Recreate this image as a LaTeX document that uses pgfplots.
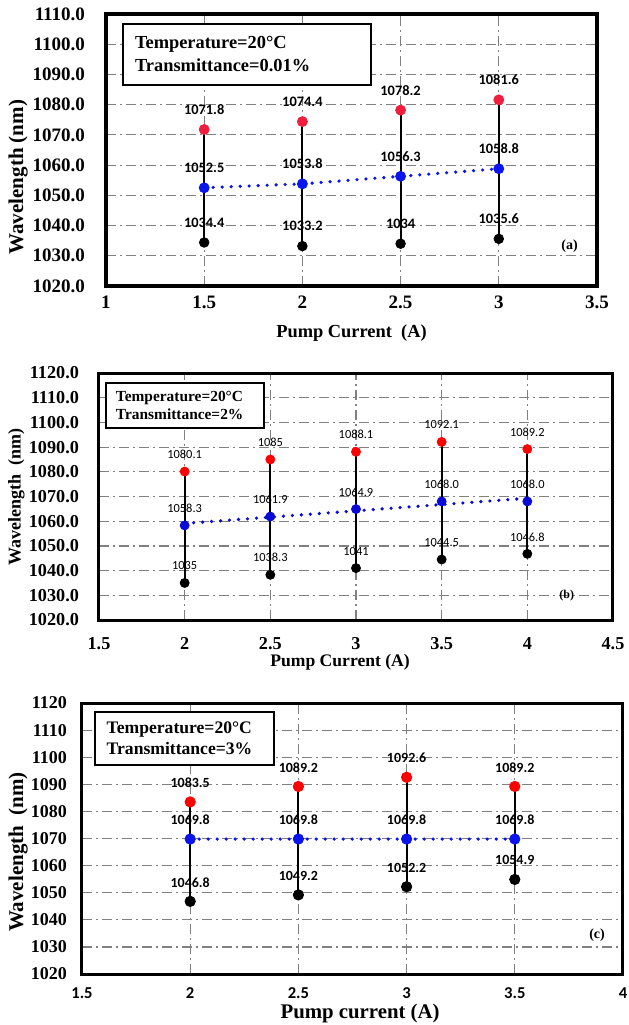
\documentclass[border=0pt]{standalone}
\usepackage{pgfplots}
\pgfplotsset{compat=1.18}
\usepackage{fontspec}
\setmainfont{Liberation Serif}
\newfontfamily\calfont{Carlito}
\definecolor{redA}{RGB}{240,30,60}
\definecolor{redB}{RGB}{255,0,0}
\definecolor{blueA}{RGB}{10,20,235}
\definecolor{blueB}{RGB}{10,10,215}
\definecolor{gridgray}{RGB}{128,128,128}
\pgfplotsset{
  panel/.style={
    scale only axis,
    anchor=north west,
    grid=major,
    major grid style={gridgray, line width=0.6pt, dash pattern=on 5pt off 2pt on 1pt off 2pt},
    major tick length=0pt,
    tick style={draw=none},
    /pgf/number format/assume math mode=true,
    clip=false,
  },
  vline/.style={black, line width=1pt, forget plot},
  dotline/.style={line width=1.8pt, line cap=round, dash pattern=on 0pt off 4.5pt, forget plot},
}
\begin{document}
\begin{tikzpicture}
\useasboundingbox (0pt,0pt) rectangle (314pt,-512.5pt);
% ---------------- panel (a)
\begin{axis}[panel, at={(53pt,-7pt)}, width=245.5pt, height=136pt,
  xmin=1, xmax=3.5, ymin=1020, ymax=1110,
  xtick={1,1.5,2,2.5,3,3.5}, ytick={1020,1030,...,1110},
  axis line style={line width=2pt},
  ticklabel style={font=\bfseries\fontsize{9.5}{10}\selectfont},
  yticklabel style={/pgf/number format/.cd, fixed, fixed zerofill, precision=1, 1000 sep={}, /tikz/.cd, xshift=-7pt},
  xticklabel style={yshift=-1.5pt},
  xlabel={Pump Current\ \ (A)},
  xlabel style={at={(axis description cs:0.5,-0.173)}, anchor=center, font=\bfseries\fontsize{9.2}{10}\selectfont},
  ylabel={Wavelength (nm)},
  ylabel style={at={(axis description cs:-0.179,0.40)}, anchor=center, font=\bfseries\fontsize{10.5}{11}\selectfont},
  nodes near coords style={black, anchor=center, yshift=10pt, font=\calfont\bfseries\fontsize{7.2}{8}\selectfont},
]
\addplot[vline] coordinates {(1.5,1034.4) (1.5,1071.8)};
\addplot[vline] coordinates {(2,1033.2) (2,1074.4)};
\addplot[vline] coordinates {(2.5,1034) (2.5,1078.2)};
\addplot[vline] coordinates {(3,1035.6) (3,1081.6)};
\addplot[dotline, blueA] coordinates {(1.5,1052.5) (2,1053.8) (2.5,1056.3) (3,1058.8)};
\addplot[only marks, mark=*, mark size=2.5pt, redA, nodes near coords, point meta=explicit symbolic]
  coordinates {(1.5,1071.8)[1071.8] (2,1074.4)[1074.4] (2.5,1078.2)[1078.2] (3,1081.6)[1081.6]};
\addplot[only marks, mark=*, mark size=2.5pt, blueA, nodes near coords, point meta=explicit symbolic]
  coordinates {(1.5,1052.5)[1052.5] (2,1053.8)[1053.8] (2.5,1056.3)[1056.3] (3,1058.8)[1058.8]};
\addplot[only marks, mark=*, mark size=2.4pt, black, nodes near coords, point meta=explicit symbolic]
  coordinates {(1.5,1034.4)[1034.4] (2,1033.2)[1033.2] (2.5,1034)[1034] (3,1035.6)[1035.6]};
\node[draw, line width=0.8pt, fill=white, anchor=north west, text width=112pt, inner xsep=6pt, minimum height=30.5pt, align=left, font=\bfseries\fontsize{9.2}{11.5}\selectfont]
  at (rel axis cs:0.033,0.967) {Temperature=20°C\\Transmittance=0.01\%};
\node[font=\bfseries\fontsize{7}{8}\selectfont] at (axis cs:3.36,1033.3) {(a)};
\end{axis}
% ---------------- panel (b)
\begin{axis}[panel, at={(49.5pt,-186.5pt)}, width=257pt, height=123.5pt,
  xmin=1.5, xmax=4.5, ymin=1020, ymax=1120,
  xtick={1.5,2,2.5,3,3.5,4,4.5}, ytick={1020,1030,...,1120},
  axis line style={line width=1.5pt},
  ticklabel style={font=\bfseries\fontsize{9.1}{10}\selectfont},
  yticklabel style={/pgf/number format/.cd, fixed, fixed zerofill, precision=1, 1000 sep={}, /tikz/.cd, xshift=-6.5pt},
  xticklabel style={yshift=-5pt},
  xlabel={Pump Current (A)},
  xlabel style={at={(axis description cs:0.469,-0.170)}, anchor=center, font=\bfseries\fontsize{8.8}{10}\selectfont},
  ylabel={Wavelength\ \ (nm)},
  ylabel style={at={(axis description cs:-0.161,0.498)}, anchor=center, font=\bfseries\fontsize{9}{10}\selectfont},
  nodes near coords style={black, anchor=center, yshift=8.5pt, font=\calfont\fontsize{6.2}{7}\selectfont},
]
\addplot[vline] coordinates {(2,1035) (2,1080.1)};
\addplot[vline] coordinates {(2.5,1038.3) (2.5,1085)};
\addplot[vline] coordinates {(3,1041) (3,1088.1)};
\addplot[vline] coordinates {(3.5,1044.5) (3.5,1092.1)};
\addplot[vline] coordinates {(4,1046.8) (4,1089.2)};
\addplot[dotline, blueB] coordinates {(2,1059.1) (4,1069.3)};
\addplot[only marks, mark=*, mark size=2.25pt, redB, nodes near coords, point meta=explicit symbolic]
  coordinates {(2,1080.1)[1080.1] (2.5,1085)[1085] (3,1088.1)[1088.1] (3.5,1092.1)[1092.1] (4,1089.2)[1089.2]};
\addplot[only marks, mark=*, mark size=2.25pt, blueB, nodes near coords, point meta=explicit symbolic]
  coordinates {(2,1058.3)[1058.3] (2.5,1061.9)[1061.9] (3,1064.9)[1064.9] (3.5,1068.0)[1068.0] (4,1068.0)[1068.0]};
\addplot[only marks, mark=*, mark size=2.25pt, black, nodes near coords, point meta=explicit symbolic]
  coordinates {(2,1035)[1035] (2.5,1038.3)[1038.3] (3,1041)[1041] (3.5,1044.5)[1044.5] (4,1046.8)[1046.8]};
\node[draw, line width=0.8pt, fill=white, anchor=north west, text width=69pt, inner xsep=5pt, minimum height=22.5pt, align=left, font=\bfseries\fontsize{7.7}{9}\selectfont]
  at (rel axis cs:0.012,0.964) {Temperature=20°C\\Transmittance=2\%};
\node[font=\bfseries\fontsize{6}{7}\selectfont] at (axis cs:4.23,1029.7) {(b)};
\end{axis}
% ---------------- panel (c)
\begin{axis}[panel, at={(41pt,-351.5pt)}, width=270.5pt, height=135.5pt,
  xmin=1.5, xmax=4, ymin=1020, ymax=1120,
  xtick={1.5,2,2.5,3,3.5,4}, ytick={1020,1030,...,1120},
  axis line style={line width=1.5pt},
  yticklabel style={font=\bfseries\fontsize{9}{10}\selectfont, /pgf/number format/.cd, 1000 sep={}, /tikz/.cd, xshift=-4pt},
  xticklabel style={font=\calfont\bfseries\fontsize{8.3}{10}\selectfont, yshift=-3.5pt},
  xlabel={Pump current (A)},
  xlabel style={at={(axis description cs:0.514,-0.144)}, anchor=center, font=\bfseries\fontsize{10.4}{11}\selectfont},
  ylabel={Wavelength\ \ (nm)},
  ylabel style={at={(axis description cs:-0.118,0.45)}, anchor=center, font=\bfseries\fontsize{10.5}{11}\selectfont},
  nodes near coords style={black, anchor=center, yshift=9.5pt, font=\calfont\bfseries\fontsize{7}{8}\selectfont},
]
\addplot[vline] coordinates {(2,1046.8) (2,1083.5)};
\addplot[vline] coordinates {(2.5,1049.2) (2.5,1089.2)};
\addplot[vline] coordinates {(3,1052.2) (3,1092.6)};
\addplot[vline] coordinates {(3.5,1054.9) (3.5,1089.2)};
\addplot[dotline, blueA] coordinates {(2,1069.8) (2.5,1069.8) (3,1069.8) (3.5,1069.8)};
\addplot[only marks, mark=*, mark size=2.6pt, redB, nodes near coords, point meta=explicit symbolic]
  coordinates {(2,1083.5)[1083.5] (2.5,1089.2)[1089.2] (3,1092.6)[1092.6] (3.5,1089.2)[1089.2]};
\addplot[only marks, mark=*, mark size=2.6pt, blueA, nodes near coords, point meta=explicit symbolic]
  coordinates {(2,1069.8)[1069.8] (2.5,1069.8)[1069.8] (3,1069.8)[1069.8] (3.5,1069.8)[1069.8]};
\addplot[only marks, mark=*, mark size=2.6pt, black, nodes near coords, point meta=explicit symbolic]
  coordinates {(2,1046.8)[1046.8] (2.5,1049.2)[1049.2] (3,1052.2)[1052.2] (3.5,1054.9)[1054.9]};
\node[draw, line width=0.8pt, fill=white, anchor=north west, text width=77.5pt, inner xsep=6pt, minimum height=26.5pt, align=left, font=\bfseries\fontsize{8.8}{10.5}\selectfont]
  at (rel axis cs:0.022,0.97) {Temperature=20°C\\Transmittance=3\%};
\node[font=\bfseries\fontsize{7}{8}\selectfont] at (axis cs:3.88,1034.5) {(c)};
\end{axis}
\end{tikzpicture}
\end{document}
